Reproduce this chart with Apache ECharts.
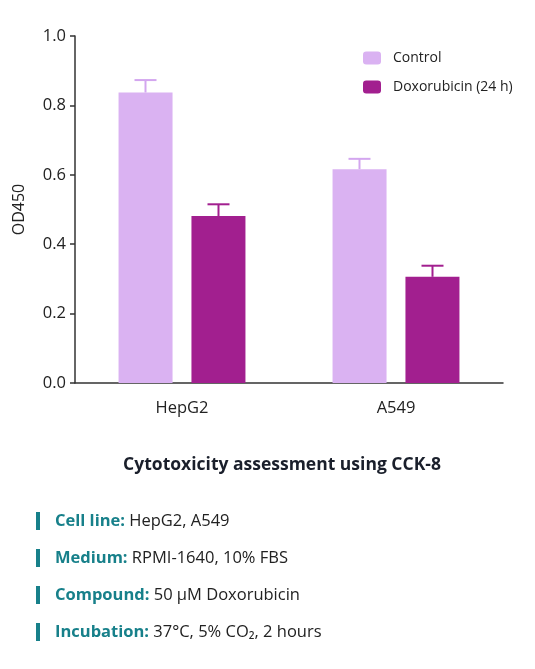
<!DOCTYPE html>
<html>
<head>
<meta charset="utf-8">
<script src="https://cdn.jsdelivr.net/npm/echarts@6/dist/echarts.min.js"></script>
<style>
  html, body { margin: 0; padding: 0; background: #fff; }
  #chart { width: 535px; height: 669px; }
</style>
</head>
<body>
<div id="chart"></div>
<script>
// data
var cellLines = ['HepG2', 'A549'];
var seriesNames = ['Control', 'Doxorubicin (24 h)'];
var controlMean = [0.837, 0.616];
var controlErr = [0.036, 0.030];
var doxoMean = [0.481, 0.306];
var doxoErr = [0.034, 0.032];

var infoLines = [
  ['Cell line:', 'HepG2, A549'],
  ['Medium:', 'RPMI-1640, 10% FBS'],
  ['Compound:', '50 μM Doxorubicin'],
  ['Incubation:', '37°C, 5% CO₂, 2 hours']
];

var colControl = '#dab2f2';
var colDoxo = '#a21f8f';
var teal = '#17808a';
var barW = 54;
var gapPx = 19;

function errSeries(name, mean, err, color, side) {
  return {
    name: name,
    type: 'custom',
    z: 1,
    data: mean.map(function (m, i) { return [i, m, err[i]]; }),
    renderItem: function (params, api) {
      var c = api.coord([api.value(0), api.value(1)]);
      var t = api.coord([api.value(0), api.value(1) + api.value(2)]);
      var x = c[0] + side * (barW + gapPx) / 2;
      var cap = 11;
      var st = { stroke: color, lineWidth: 2 };
      return {
        type: 'group',
        children: [
          { type: 'line', shape: { x1: x, y1: c[1], x2: x, y2: t[1] }, style: st },
          { type: 'line', shape: { x1: x - cap, y1: t[1], x2: x + cap, y2: t[1] }, style: st }
        ]
      };
    }
  };
}

var graphics = [{
  type: 'text',
  x: 282,
  y: 465,
  style: {
    text: 'Cytotoxicity assessment using CCK-8',
    font: '700 17.5px "Open Sans", sans-serif',
    fill: '#1a1f2b',
    align: 'center',
    verticalAlign: 'middle'
  }
}];
infoLines.forEach(function (ln, i) {
  var y = 521 + i * 37;
  graphics.push({
    type: 'rect',
    shape: { x: 36, y: y - 9, width: 4, height: 18 },
    style: { fill: teal }
  });
  graphics.push({
    type: 'text',
    x: 55,
    y: y,
    style: {
      text: '{b|' + ln[0] + '}{r| ' + ln[1] + '}',
      verticalAlign: 'middle',
      rich: {
        b: { fontWeight: 700, fontSize: 16.5, fontFamily: 'Open Sans', fill: teal, color: teal },
        r: { fontSize: 16.5, fontFamily: 'Open Sans', fill: '#222', color: '#222' }
      }
    }
  });
});

var option = {
  backgroundColor: '#fff',
  animation: false,
  textStyle: { fontFamily: 'Open Sans' },
  grid: { left: 75, top: 36, width: 428, height: 347 },
  legend: {
    data: seriesNames,
    orient: 'vertical',
    left: 358,
    top: 46,
    itemWidth: 18,
    itemHeight: 13,
    itemGap: 15,
    textStyle: { fontSize: 14, color: '#222', fontFamily: 'Open Sans', padding: [0, 0, 0, 7] }
  },
  xAxis: {
    type: 'category',
    data: cellLines,
    axisTick: { show: false },
    axisLine: { lineStyle: { color: '#333', width: 1.5 } },
    axisLabel: { fontSize: 16.5, color: '#222', margin: 17, fontWeight: 500 }
  },
  yAxis: {
    type: 'value',
    min: 0,
    max: 1,
    interval: 0.2,
    name: 'OD450',
    nameLocation: 'middle',
    nameGap: 48,
    nameTextStyle: { fontSize: 16, color: '#222', fontWeight: 500 },
    splitLine: { show: false },
    axisLine: { show: true, lineStyle: { color: '#333', width: 1.5 } },
    axisTick: { show: true, length: 5, lineStyle: { color: '#333', width: 1.5 } },
    axisLabel: {
      fontSize: 16.5, color: '#222', margin: 9, fontWeight: 500,
      formatter: function (v) { return v.toFixed(1); }
    }
  },
  series: [
    {
      name: seriesNames[0], type: 'bar', data: controlMean,
      barWidth: barW, barGap: (gapPx / barW * 100).toFixed(0) + '%',
      itemStyle: { color: colControl }, z: 2
    },
    {
      name: seriesNames[1], type: 'bar', data: doxoMean,
      barWidth: barW,
      itemStyle: { color: colDoxo }, z: 2
    },
    errSeries(seriesNames[0], controlMean, controlErr, '#d3a6ef', -1),
    errSeries(seriesNames[1], doxoMean, doxoErr, colDoxo, 1)
  ],
  graphic: graphics
};

echarts.init(document.getElementById('chart')).setOption(option);
</script>
</body>
</html>
